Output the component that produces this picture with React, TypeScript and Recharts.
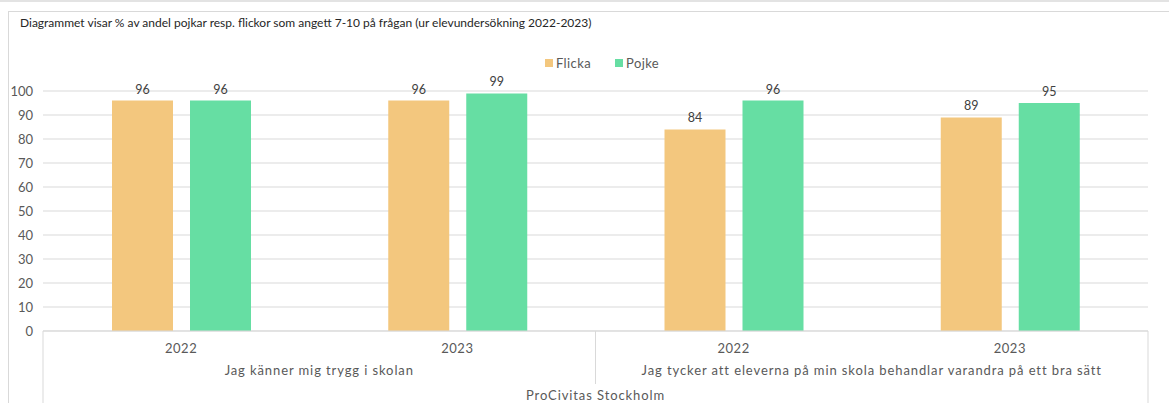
import { Bar, BarChart, CartesianGrid, LabelList, Legend, XAxis, YAxis } from 'recharts'

const years = ['2022', '2023', '2022', '2023']
const questions = [
  'Jag känner mig trygg i skolan',
  'Jag känner mig trygg i skolan',
  'Jag tycker att eleverna på min skola behandlar varandra på ett bra sätt',
  'Jag tycker att eleverna på min skola behandlar varandra på ett bra sätt',
]
const school = 'ProCivitas Stockholm'
const flicka = [96, 96, 84, 89]
const pojke = [96, 99, 96, 95]
const yTicks = [0, 10, 20, 30, 40, 50, 60, 70, 80, 90, 100]

const data = years.map((y, i) => ({
  year: y,
  question: questions[i],
  school,
  Flicka: flicka[i],
  Pojke: pojke[i],
}))

const FONT = 'Lato, "DejaVu Sans", sans-serif'
const GRID = '#D9D9D9'
const TEXT = '#595959'
const COLORS = { Flicka: '#F3C77E', Pojke: '#66DEA3' }

// axis ids sort in stacking order: l1 sits next to the plot, l3 at the bottom
// bottom year row, also draws the category dividers of the multi-level axis
function YearTick(props: any) {
  const { x, y, payload, index } = props
  const half = payload.offset
  return (
    <g>
      <text x={x} y={y} dy={22} textAnchor="middle" fontSize={13} fill={TEXT} fontFamily={FONT} letterSpacing={0.5}>
        {payload.value}
      </text>
      {index % 2 === 0 && (
        <line x1={x - half} x2={x - half} y1={y} y2={index === 0 ? y + 72 : y + 53} stroke={GRID} />
      )}
      {index === years.length - 1 && <line x1={x + half} x2={x + half} y1={y} y2={y + 72} stroke={GRID} />}
    </g>
  )
}

function QuestionTick(props: any) {
  const { x, y, payload, index } = props
  if (index % 2 !== 0) return <g />
  return (
    <text
      x={x + payload.offset}
      y={y}
      dy={20}
      textAnchor="middle"
      fontSize={13}
      fill={TEXT}
      fontFamily={FONT}
      letterSpacing={0.9}
    >
      {payload.value}
    </text>
  )
}

function SchoolTick(props: any) {
  const { x, y, payload, index } = props
  if (index !== 1) return <g />
  return (
    <text
      x={x + payload.offset}
      y={y}
      dy={23}
      textAnchor="middle"
      fontSize={13}
      fill={TEXT}
      fontFamily={FONT}
      letterSpacing={0.9}
    >
      {payload.value}
    </text>
  )
}

function LegendContent() {
  return (
    <div
      style={{
        display: 'flex',
        justifyContent: 'center',
        gap: 24,
        fontFamily: FONT,
        fontSize: 13,
        letterSpacing: 0.4,
        color: TEXT,
        paddingLeft: 48,
      }}
    >
      {(['Flicka', 'Pojke'] as const).map((k) => (
        <span key={k} style={{ display: 'inline-flex', alignItems: 'center' }}>
          <span style={{ width: 8, height: 8, background: COLORS[k], display: 'inline-block', marginRight: 3 }} />
          {k}
        </span>
      ))}
    </div>
  )
}

export default function App() {
  return (
    <div style={{ position: 'absolute', left: 0, top: 0, width: 1169, height: 403, background: '#fff', overflow: 'hidden' }}>
      <div style={{ position: 'absolute', left: 0, top: 0, width: 1169, height: 2, background: '#E3E3E3' }} />
      <div
        style={{
          position: 'absolute',
          left: 8,
          top: 11,
          width: 1180,
          height: 400,
          borderTop: `1px solid ${GRID}`,
          borderLeft: `1px solid ${GRID}`,
        }}
      />
      <div
        style={{
          position: 'absolute',
          left: 20,
          top: 15,
          fontFamily: FONT,
          fontSize: 12,
          color: '#262626',
          whiteSpace: 'nowrap',
        }}
      >
        Diagrammet visar % av andel pojkar resp. flickor som angett 7-10 på frågan (ur elevundersökning 2022-2023)
      </div>
      <div style={{ position: 'absolute', left: 0, top: 0 }}>
        <BarChart
          width={1169}
          height={403}
          data={data}
          margin={{ top: 91, right: 21, left: 8, bottom: 0 }}
          barGap={17}
          barSize={61}
        >
          <CartesianGrid stroke={GRID} vertical={false} xAxisId="l1" />
          <XAxis
            xAxisId="l1"
            dataKey="year"
            height={24}
            tickLine={false}
            tickSize={0}
            tickMargin={0}
            axisLine={{ stroke: GRID }}
            interval={0}
            tick={<YearTick />}
          />
          <XAxis
            xAxisId="l2"
            dataKey="question"
            height={22}
            tickLine={false}
            tickSize={0}
            tickMargin={0}
            axisLine={false}
            interval={0}
            tick={<QuestionTick />}
          />
          <XAxis
            xAxisId="l3"
            dataKey="school"
            height={26}
            tickLine={false}
            tickSize={0}
            tickMargin={0}
            axisLine={false}
            interval={0}
            tick={<SchoolTick />}
          />
          <YAxis
            width={35}
            domain={[0, 100]}
            ticks={yTicks}
            interval={0}
            axisLine={false}
            tickLine={false}
            tickMargin={4}
            tick={{ fontSize: 13, fill: TEXT, fontFamily: FONT }}
          />
          <Legend
            verticalAlign="middle"
            align="center"
            layout="horizontal"
            wrapperStyle={{ top: 55 }}
            content={<LegendContent />}
          />
          <Bar xAxisId="l1" dataKey="Flicka" fill={COLORS.Flicka} isAnimationActive={false}>
            <LabelList dataKey="Flicka" position="top" offset={7} fontSize={12.5} fill="#404040" fontFamily={FONT} />
          </Bar>
          <Bar xAxisId="l1" dataKey="Pojke" fill={COLORS.Pojke} isAnimationActive={false}>
            <LabelList dataKey="Pojke" position="top" offset={7} fontSize={12.5} fill="#404040" fontFamily={FONT} />
          </Bar>
        </BarChart>
      </div>
    </div>
  )
}
